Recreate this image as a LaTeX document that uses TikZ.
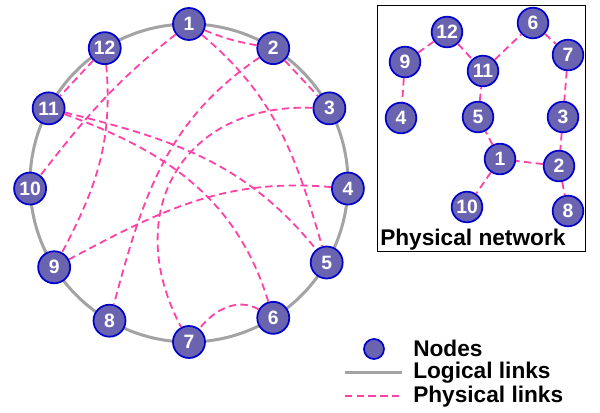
\documentclass[tikz,border=0pt]{standalone}
\usepackage{fontspec}
\setmainfont{Liberation Sans}
\usepackage{tikz}
\usetikzlibrary{math}
\definecolor{nodefill}{RGB}{106,100,176}
\definecolor{nodeline}{RGB}{0,0,205}
\definecolor{physpink}{RGB}{255,64,165}
\definecolor{logicgray}{RGB}{163,163,163}

\begin{document}
\begin{tikzpicture}[x=0.75pt,y=0.75pt,
    vertex/.style={circle,fill=nodefill,draw=nodeline,line width=1.3pt,minimum size=24pt,inner sep=0pt,text=white,font=\fontsize{14.5}{14.5}\selectfont\bfseries},
    physlink/.style={draw=physpink,line width=1.35pt,dash pattern=on 5.5pt off 3.3pt},
    logiclink/.style={draw=logicgray,line width=2.25pt},
    legendtext/.style={font=\fontsize{17}{17}\selectfont\bfseries,anchor=base west,inner sep=0pt}]
  \useasboundingbox (0,0) rectangle (600,412);
  \tikzmath{\cx = 189; \cy = 229; \r = 159;}
  \draw[logiclink] (\cx,\cy) circle (\r);
  \foreach \i/\a in {1/90,2/58,3/28,4/-2,5/-30,6/-58,7/-90,8/-120,9/-148,10/-178,11/152,12/122}
    \node[vertex] (n\i) at ([shift={(\cx,\cy)}]\a:\r) {\i};
  \draw[physlink] (n1) to[bend right=6] (n2);
  \draw[physlink] (n2) -- (n3);
  \draw[physlink] (n12) -- (n11);
  \draw[physlink] (n1) to[out=-40,in=106] (n5);
  \draw[physlink] (n1) to[out=-142,in=52] (n10);
  \draw[physlink] (n12) to[out=-85,in=62] (n9);
  \draw[physlink] (n11) to[out=-14,in=129] (n5);
  \draw[physlink] (n11) to[out=-20,in=107] (n6);
  \draw[physlink] (n2) to[out=-146,in=75] (n8);
  \draw[physlink] (n3) to[out=178,in=118,looseness=1.3] (n7);
  \draw[physlink] (n4) to[out=175,in=28] (n9);
  \draw[physlink] (n6) to[out=150,in=52] (n7);

  \draw[line width=0.75pt] (377,161) rectangle (585,407);
  \foreach \i/\px/\py in {1/500/253,2/559/246,3/563/295,4/401/294,5/478/295,6/533/389,7/568/357,8/568/201,9/405/350,10/467/205,11/483/341,12/447/380}
    \node[vertex,minimum size=23pt] (p\i) at (\px,\py) {\i};
  \foreach \u/\v in {9/12,12/11,11/6,6/7,7/3,3/2,2/8,2/1,1/5,1/10,5/11,9/4}
    \draw[physlink] (p\u) -- (p\v);
  \node[legendtext] (physnet) at (380,167) {Physical network};

  \node[vertex,minimum size=15pt] (legnode) at (374,63) {};
  \node[legendtext] (nodestext) at (413,56) {Nodes};
  \coordinate (logicA) at (345,40);
  \coordinate (logicB) at (402,40);
  \draw[logiclink] (logicA) -- (logicB);
  \node[legendtext] (logictext) at (413,34) {Logical links};
  \coordinate (physA) at (345,16);
  \coordinate (physB) at (402,16);
  \draw[physlink] (physA) -- (physB);
  \node[legendtext] (phystext) at (413,10) {Physical links};
\end{tikzpicture}
\end{document}
